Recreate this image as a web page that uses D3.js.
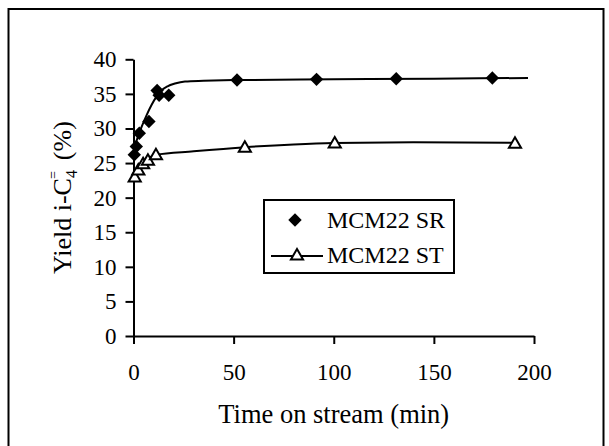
<!DOCTYPE html>
<html>
<head>
<meta charset="utf-8">
<script src="https://cdn.jsdelivr.net/npm/d3@7"></script>
<style>
  body { margin: 0; background: #fff; }
  svg { display: block; font-family: "Liberation Serif", "Times New Roman", serif; }
</style>
</head>
<body>
<div id="chart"></div>
<script>
// measured points (time on stream in min, yield %)
const srTime  = [0.4, 1.4, 2.9, 7.7, 11.8, 12.8, 17.6, 51.7, 91.4, 131.2, 179.2];
const srYield = [26.2, 27.4, 29.3, 31.0, 35.5, 34.8, 34.8, 37.0, 37.1, 37.2, 37.3];
const stTime  = [0.6, 2.4, 4.8, 7.2, 11.2, 55.6, 100.5, 190.5];
const stYield = [23.0, 24.0, 24.9, 25.4, 26.2, 27.3, 27.9, 27.85];

// trend curves as drawn in the figure
const srFitTime  = [0, 1.6, 4, 6.5, 9, 11.5, 14, 17, 20.7, 25.7, 35, 50, 100, 150, 197];
const srFitYield = [27.0, 28.3, 30.2, 31.9, 33.4, 34.6, 35.5, 36.1, 36.5, 36.8, 36.9, 37.0, 37.1, 37.2, 37.3];
const stFitTime  = [0, 2, 4, 7, 11, 30, 56, 80, 100, 140, 191];
const stFitYield = [23.0, 24.2, 25.0, 25.6, 26.2, 26.7, 27.3, 27.7, 27.9, 28.0, 27.95];

const xTicks = [0, 50, 100, 150, 200];
const yTicks = [0, 5, 10, 15, 20, 25, 30, 35, 40];
const legendLabels = ["MCM22 SR", "MCM22 ST"];

const width = 609;
const height = 446;
const margin = { top: 59.3, right: 75, bottom: 110, left: 133.5 };

const svg = d3.select("#chart").append("svg")
    .attr("width", width)
    .attr("height", height);

// outer frame (bottom edge falls outside the picture)
svg.append("rect")
    .attr("x", 8.5).attr("y", 9)
    .attr("width", 595).attr("height", 460)
    .attr("fill", "none")
    .attr("stroke", "#000")
    .attr("stroke-width", 2);

const xScale = d3.scaleLinear().domain([0, 200]).range([margin.left, width - margin.right]);
const yScale = d3.scaleLinear().domain([0, 40]).range([height - margin.bottom, margin.top]);

const xAxis = svg.append("g")
    .attr("transform", `translate(0,${yScale(0)})`)
    .call(d3.axisBottom(xScale).tickValues(xTicks).tickSize(8).tickSizeOuter(0).tickPadding(20));

const yAxis = svg.append("g")
    .attr("transform", `translate(${xScale(0)},0)`)
    .call(d3.axisLeft(yScale).tickValues(yTicks).tickSize(8).tickSizeOuter(0).tickPadding(9));

[xAxis, yAxis].forEach(ax => {
    ax.selectAll("path, line").attr("stroke", "#000").attr("stroke-width", 2);
    ax.selectAll("text").attr("font-family", "Liberation Serif, Times New Roman, serif")
        .attr("font-size", 23).attr("fill", "#000");
});

// axis titles
svg.append("text")
    .attr("x", (xScale(0) + xScale(200)) / 2)
    .attr("y", 423)
    .attr("text-anchor", "middle")
    .attr("font-size", 26.5)
    .text("Time on stream (min)");

const yTitle = svg.append("text")
    .attr("transform", `translate(71,${(yScale(0) + yScale(40)) / 2}) rotate(-90)`)
    .attr("text-anchor", "middle")
    .attr("font-size", 26);
yTitle.append("tspan").text("Yield i-C");
yTitle.append("tspan").attr("font-size", 16).attr("dy", 6).text("4");
yTitle.append("tspan").attr("font-size", 14).attr("dx", -9).attr("dy", -19).text("=");
yTitle.append("tspan").attr("font-size", 26).attr("dx", 11).attr("dy", 13).text("(%)");

const line = d3.line()
    .x(d => xScale(d[0]))
    .y(d => yScale(d[1]))
    .curve(d3.curveMonotoneX);

svg.append("path")
    .datum(d3.zip(srFitTime, srFitYield))
    .attr("fill", "none").attr("stroke", "#000").attr("stroke-width", 2)
    .attr("d", line);

svg.append("path")
    .datum(d3.zip(stFitTime, stFitYield))
    .attr("fill", "none").attr("stroke", "#000").attr("stroke-width", 2)
    .attr("d", line);

const diamond = d3.symbol().type(d3.symbolSquare).size(90);
const triangle = d3.symbol().type(d3.symbolTriangle).size(64);

svg.selectAll(".st")
    .data(d3.zip(stTime, stYield))
    .join("path")
    .attr("class", "st")
    .attr("d", triangle)
    .attr("transform", d => `translate(${xScale(d[0])},${yScale(d[1]) + 1})`)
    .attr("fill", "#fff").attr("stroke", "#000").attr("stroke-width", 2);

svg.selectAll(".sr")
    .data(d3.zip(srTime, srYield))
    .join("path")
    .attr("class", "sr")
    .attr("d", diamond)
    .attr("transform", d => `translate(${xScale(d[0])},${yScale(d[1])}) rotate(45)`)
    .attr("fill", "#000");

// legend
const legend = svg.append("g");
legend.append("rect")
    .attr("x", 264).attr("y", 200)
    .attr("width", 190).attr("height", 73)
    .attr("fill", "#fff").attr("stroke", "#000").attr("stroke-width", 2);

legend.append("path")
    .attr("d", diamond)
    .attr("transform", "translate(295,220) rotate(45)")
    .attr("fill", "#000");

legend.append("line")
    .attr("x1", 271).attr("x2", 323).attr("y1", 256).attr("y2", 256)
    .attr("stroke", "#000").attr("stroke-width", 2);
legend.append("path")
    .attr("d", triangle)
    .attr("transform", "translate(297,256)")
    .attr("fill", "#fff").attr("stroke", "#000").attr("stroke-width", 2);

legend.selectAll("text")
    .data(legendLabels)
    .join("text")
    .attr("x", 327)
    .attr("y", (d, i) => 228 + i * 35)
    .attr("font-size", 24)
    .text(d => d);
</script>
</body>
</html>
